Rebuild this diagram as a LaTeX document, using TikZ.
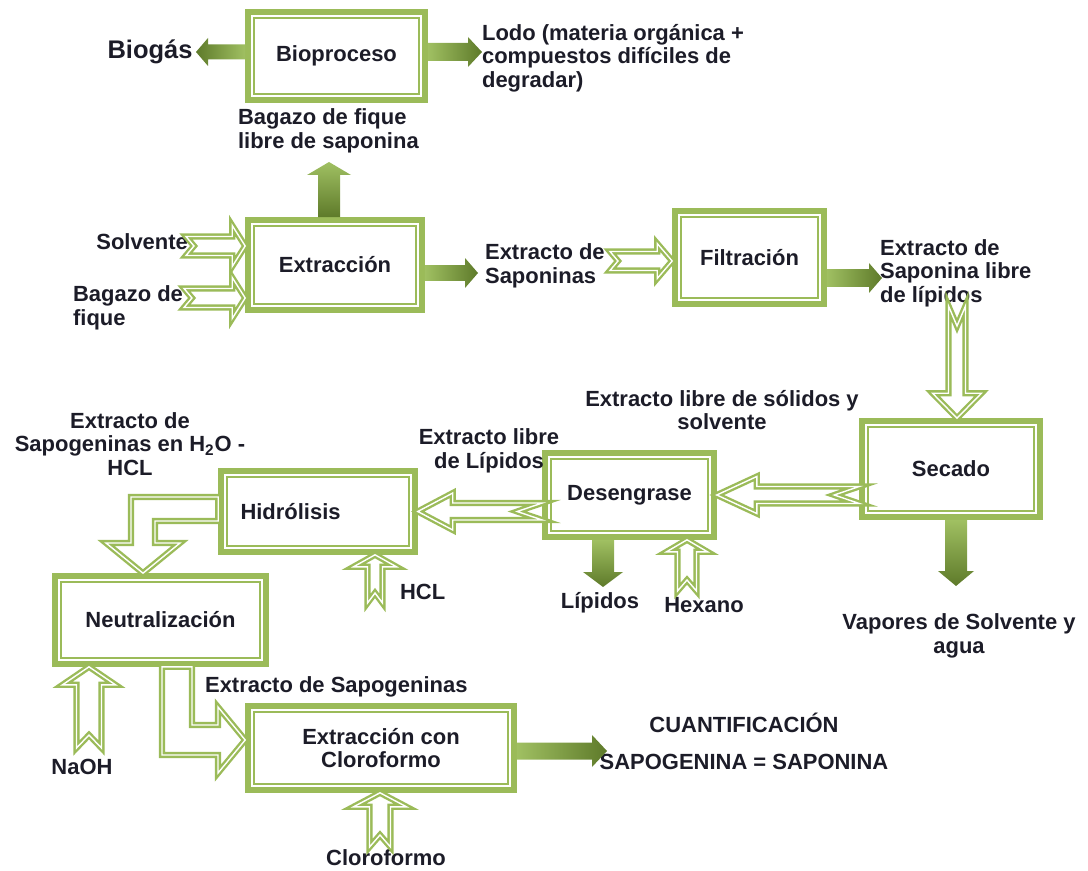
\documentclass[tikz,border=0pt]{standalone}
\usepackage{fontspec}
\setmainfont{Liberation Sans}
\usetikzlibrary{calc}
\definecolor{boxgreen}{RGB}{155,187,89}
\definecolor{prodlight}{RGB}{160,192,98}
\definecolor{proddark}{RGB}{94,122,42}
\definecolor{inkdark}{RGB}{28,28,40}
% block arrow: [style]{from}{to}{half shaft}{half head}{head length}{tail notch}
\newcommand{\blockarrow}[7][]{%
	\path (#2) coordinate (ba-a) (#3) coordinate (ba-b);
	\coordinate (ba-c) at ($(ba-b)!#6!(ba-a)$);
	\path[#1] ($(ba-a)!#4!90:(ba-b)$) -- ($(ba-c)!#4!-90:(ba-a)$) -- ($(ba-c)!#5!-90:(ba-a)$) -- (ba-b)
		-- ($(ba-c)!#5!90:(ba-a)$) -- ($(ba-c)!#4!90:(ba-a)$) -- ($(ba-a)!#4!-90:(ba-b)$) -- ($(ba-a)!#7!(ba-b)$) -- cycle;
}
\begin{document}
\begin{tikzpicture}[x=0.02cm, y=-0.02cm,
		every node/.style={text=inkdark, font=\bfseries\fontsize{12.5}{13.3}\selectfont},
		box/.style={draw=boxgreen, line width=3.2pt, fill=white, align=center,
			path picture={\draw[boxgreen, line width=0.9pt] ([shift={(1.2mm,-1.2mm)}]path picture bounding box.north west) rectangle ([shift={(-1.2mm,1.2mm)}]path picture bounding box.south east);}},
		tag/.style={inner sep=1pt, align=center},
		feed/.style={draw=boxgreen, fill=white, line width=1.35pt, double=white, double distance=0.8pt},
		prodright/.style={left color=prodlight, right color=proddark},
		prodleft/.style={left color=proddark, right color=prodlight},
		proddown/.style={top color=prodlight, bottom color=proddark}]
	\useasboundingbox (0,0) rectangle (1088,871);

	% Process boxes
	\node[box, minimum width=3.54cm, minimum height=1.76cm] (bio) at (336.5,56) {Bioproceso};
	\node[box, minimum width=3.48cm, minimum height=1.80cm] (ext) at (335,265) {Extracción};
	\node[box, minimum width=2.98cm, minimum height=1.86cm] (fil) at (749.5,257.5) {Filtración};
	\node[box, minimum width=3.56cm, minimum height=1.92cm] (sec) at (951,469) {Secado};
	\node[box, minimum width=3.38cm, minimum height=1.68cm] (des) at (629.5,495) {Desengrase};
	\node[box, minimum width=3.88cm, minimum height=1.62cm, text width=3.1cm, align=left] (hid) at (318,511.5) {Hidrólisis};
	\node[box, minimum width=4.22cm, minimum height=1.76cm] (neu) at (160.5,620) {Neutralización};
	\node[box, minimum width=5.32cm, minimum height=1.68cm] (clo) at (381,748) {Extracción con\\Cloroformo};

	% Labels
	\node[tag] (biogas) at (150,52) {\fontsize{14.5}{16}\selectfont Biogás};
	\node[tag, anchor=west, align=left] (bagsap) at (236,131) {Bagazo de fique\\libre de saponina};
	\node[tag, anchor=west, align=left] (lodo) at (480,58) {Lodo (materia orgánica +\\compuestos difíciles de\\degradar)};
	\node[tag, anchor=east] (solv) at (190,242) {Solvente};
	\node[tag, anchor=west, align=left] (bagfiq) at (71,308) {Bagazo de\\fique};
	\node[tag, anchor=west, align=left] (extsap) at (483,266) {Extracto de\\Saponinas};
	\node[tag, anchor=west, align=left] (extlib) at (878,273) {Extracto de\\Saponina libre\\de lípidos};
	\node[tag] (extsol) at (722,410) {Extracto libre de sólidos y\\solvente};
	\node[tag] (extlip) at (489,451) {Extracto libre\\de Lípidos};
	\node[tag] (extgen) at (130,444) {Extracto de\\Sapogeninas en H\textsubscript{2}O -\\HCL};
	\node[tag, anchor=west] (hcl) at (398,592) {HCL};
	\node[tag] (lip) at (600,603) {Lípidos};
	\node[tag] (hex) at (704,605) {Hexano};
	\node[tag] (vap) at (959,636) {Vapores de Solvente y\\agua};
	\node[tag] (naoh) at (82,767) {NaOH};
	\node[tag, anchor=west] (extgen2) at (203,687) {Extracto de Sapogeninas};
	\node[tag] (clor) at (386,858) {Cloroformo};
	\node[tag] (cuant) at (744,723) {CUANTIFICACIÓN};
	\node[tag] (sapeq) at (744,762) {SAPOGENINA = SAPONINA};

	% Free ends
	\coordinate (solvin) at (186,246);
	\coordinate (bagin) at (184,298);
	\coordinate (sapin) at (610,261);
	\coordinate (libin) at (957,306);
	\coordinate (hclin) at (375,603);
	\coordinate (hexin) at (687,591);
	\coordinate (naohin) at (89,748);
	\coordinate (cloin) at (380,847);
	\coordinate (gasout) at (196,52);
	\coordinate (lodout) at (482,52);
	\coordinate (bagout) at (329,162);
	\coordinate (sapout) at (478,273);
	\coordinate (libout) at (882,278);
	\coordinate (vapout) at (956,586);
	\coordinate (lipout) at (603,587);
	\coordinate (cuaout) at (607,751);

	% Feeds (hollow arrows)
	\blockarrow[feed]{solvin}{ext.west |- solvin}{1.9mm}{4.1mm}{2.6mm}{1.6mm}
	\blockarrow[feed]{bagin}{ext.west |- bagin}{1.9mm}{4.1mm}{2.6mm}{1.6mm}
	\blockarrow[feed]{sapin}{fil.west |- sapin}{1.9mm}{3.5mm}{3.0mm}{1.6mm}
	\blockarrow[feed]{libin}{libin |- sec.north}{1.7mm}{4.9mm}{5.0mm}{4.0mm}
	\blockarrow[feed]{sec.west |- des.east}{des.east}{1.7mm}{3.7mm}{8.0mm}{5.0mm}
	\blockarrow[feed]{des.west |- hid.east}{hid.east}{1.7mm}{3.7mm}{7.0mm}{5.0mm}
	\blockarrow[feed]{hclin}{hclin |- hid.south}{1.5mm}{4.3mm}{2.4mm}{2.0mm}
	\blockarrow[feed]{hexin}{hexin |- des.south}{1.9mm}{4.1mm}{2.4mm}{2.2mm}
	\blockarrow[feed]{naohin}{naohin |- neu.south}{2.5mm}{5.3mm}{3.6mm}{2.6mm}
	\blockarrow[feed]{cloin}{cloin |- clo.south}{2.1mm}{5.3mm}{2.8mm}{2.4mm}
	\draw[feed] (hid.west |- 0,497) -- (131,497) -- (131,543) -- (106,543) -- (143,0 |- neu.north)
		-- (180,543) -- (155,543) -- (155,521) -- (hid.west |- 0,521) -- cycle;
	\draw[feed] (162,0 |- neu.south) -- (162,755) -- (218,755) -- (218,773) -- (clo.west |- 0,740)
		-- (218,707) -- (218,725) -- (192,725) -- (192,0 |- neu.south) -- cycle;

	% Products (shaded arrows)
	\blockarrow[prodleft]{bio.west |- gasout}{gasout}{1.5mm}{2.8mm}{2.4mm}{0mm}
	\blockarrow[prodright]{bio.east |- lodout}{lodout}{1.8mm}{3.0mm}{2.8mm}{0mm}
	\blockarrow[proddown]{bagout |- ext.north}{bagout}{2.2mm}{4.4mm}{2.6mm}{0mm}
	\blockarrow[prodright]{ext.east |- sapout}{sapout}{1.6mm}{3.0mm}{2.6mm}{0mm}
	\blockarrow[prodright]{fil.east |- libout}{libout}{1.8mm}{3.0mm}{2.6mm}{0mm}
	\blockarrow[proddown]{vapout |- sec.south}{vapout}{2.2mm}{3.6mm}{3.0mm}{0mm}
	\blockarrow[proddown]{lipout |- des.south}{lipout}{2.2mm}{4.0mm}{3.0mm}{0mm}
	\blockarrow[prodright]{clo.east |- cuaout}{cuaout}{1.7mm}{3.2mm}{3.0mm}{0mm}
\end{tikzpicture}
\end{document}
